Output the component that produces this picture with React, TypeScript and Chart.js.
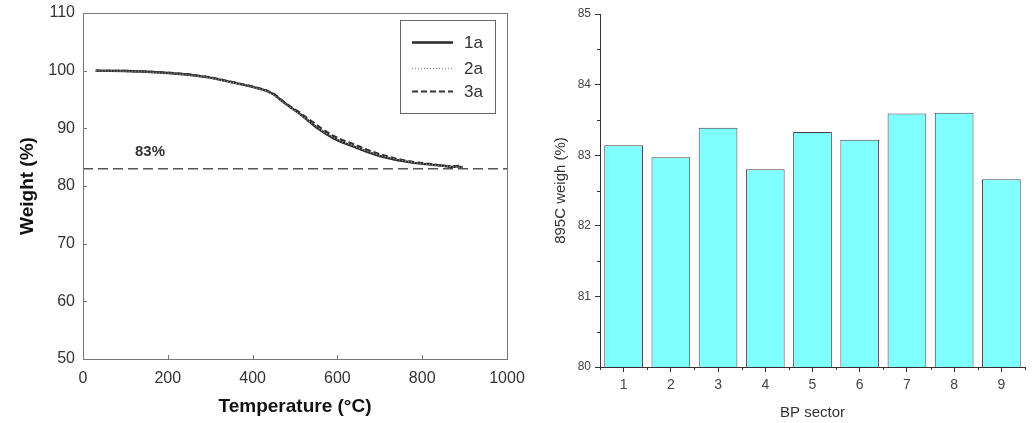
import React, { useEffect, useRef } from "react";
import { Chart, registerables } from "chart.js";

Chart.register(...registerables);

// ---------- Left chart data (TGA curves) ----------
const temperatures = [30, 100, 150, 200, 250, 300, 350, 400, 430, 450, 470, 490, 510, 530, 550, 570, 590, 610, 640, 670, 700, 740, 780, 820, 850, 870, 885, 895];
const weight1a = [100.0, 99.95, 99.8, 99.6, 99.3, 98.8, 98.0, 97.2, 96.6, 95.9, 94.7, 93.6, 92.6, 91.4, 90.2, 89.2, 88.3, 87.6, 86.8, 85.9, 85.2, 84.5, 84.0, 83.7, 83.5, 83.3, 83.4, 83.2];
const weight2a = [100.0, 99.9, 99.75, 99.55, 99.25, 98.75, 97.95, 97.15, 96.55, 95.8, 94.6, 93.5, 92.5, 91.4, 90.3, 89.3, 88.4, 87.7, 86.9, 86.0, 85.3, 84.6, 84.05, 83.7, 83.45, 83.35, 83.3, 83.25];
const weight3a = [100.0, 99.95, 99.85, 99.65, 99.35, 98.85, 98.05, 97.25, 96.65, 96.0, 94.8, 93.7, 92.8, 91.7, 90.6, 89.6, 88.7, 88.0, 87.2, 86.3, 85.5, 84.7, 84.15, 83.8, 83.5, 83.4, 83.5, 83.3];
const seriesLabels = ["1a", "2a", "3a"];
const referenceLevel = 83;
const referenceLabel = "83%";
const referenceLabelAt = { x: 158, y: 85.9 };
const tempAxisTitle = "Temperature (°C)";
const weightAxisTitle = "Weight (%)";

// ---------- Right chart data (bars) ----------
const sectors = ["1", "2", "3", "4", "5", "6", "7", "8", "9"];
const sectorWeights = [83.14, 82.97, 83.39, 82.8, 83.33, 83.22, 83.59, 83.6, 82.66];
const sectorAxisTitle = "BP sector";
const sectorValueTitle = "895C weigh (%)";

const FONT = "'Liberation Sans', Arial, sans-serif";

const zeroPad = (s: any) => {
  s.paddingTop = 0;
  s.paddingBottom = 0;
  s.paddingLeft = 0;
  s.paddingRight = 0;
};

const leftFramePlugin = {
  id: "leftFrame",
  afterDraw(chart: any) {
    const { ctx, chartArea: a, scales } = chart;
    ctx.save();
    ctx.strokeStyle = "#777";
    ctx.lineWidth = 1;
    ctx.strokeRect(a.left + 0.5, a.top + 0.5, a.right - a.left, a.bottom - a.top);
    ctx.beginPath();
    scales.x.ticks.forEach((t: any) => {
      const px = Math.round(scales.x.getPixelForValue(t.value)) + 0.5;
      ctx.moveTo(px, a.bottom);
      ctx.lineTo(px, a.bottom - 4);
    });
    scales.y.ticks.forEach((t: any) => {
      const py = Math.round(scales.y.getPixelForValue(t.value)) + 0.5;
      ctx.moveTo(a.left, py);
      ctx.lineTo(a.left + 4, py);
    });
    ctx.stroke();
    // reference label
    ctx.fillStyle = "#333";
    ctx.font = `bold 15px ${FONT}`;
    ctx.textAlign = "center";
    ctx.textBaseline = "middle";
    ctx.fillText(referenceLabel, scales.x.getPixelForValue(referenceLabelAt.x), scales.y.getPixelForValue(referenceLabelAt.y));
    // legend box
    const x0 = 400, y0 = 20, w = 95, h = 93;
    ctx.strokeStyle = "#666";
    ctx.strokeRect(x0 + 0.5, y0 + 0.5, w, h);
    const rows = [42, 68, 91];
    seriesLabels.forEach((lab, i) => {
      const d = chart.data.datasets.find((ds: any) => ds.label === lab);
      if (!d) return;
      const y = rows[i];
      ctx.save();
      ctx.strokeStyle = d.borderColor;
      ctx.lineWidth = d.borderWidth;
      ctx.setLineDash(d.borderDash || []);
      ctx.beginPath();
      ctx.moveTo(412, y + 0.5);
      ctx.lineTo(453, y + 0.5);
      ctx.stroke();
      ctx.restore();
      ctx.fillStyle = "#333";
      ctx.font = `17px ${FONT}`;
      ctx.textAlign = "left";
      ctx.fillText(d.label, 464, y + 1);
    });
    ctx.restore();
  },
};

const rightMinorPlugin = {
  id: "rightMinor",
  afterDraw(chart: any) {
    const { ctx, chartArea: a, scales } = chart;
    ctx.save();
    ctx.strokeStyle = "#333";
    ctx.lineWidth = 1;
    ctx.beginPath();
    const n = scales.x.ticks.length;
    for (let i = 0; i <= n; i++) {
      const px = Math.round(scales.x.getPixelForValue(i - 0.5)) + 0.5;
      ctx.moveTo(px, a.bottom);
      ctx.lineTo(px, a.bottom + 3);
    }
    const { min, max } = scales.y;
    for (let v = min + 0.5; v < max; v += 1) {
      const py = Math.round(scales.y.getPixelForValue(v)) + 0.5;
      ctx.moveTo(a.left, py);
      ctx.lineTo(a.left - 3, py);
    }
    ctx.stroke();
    ctx.restore();
  },
};

function LeftChart() {
  const ref = useRef<HTMLCanvasElement>(null);
  useEffect(() => {
    const toPts = (arr: number[]) => temperatures.map((t, i) => ({ x: t, y: arr[i] }));
    const chart = new Chart(ref.current as HTMLCanvasElement, {
      type: "line",
      data: {
        datasets: [
          { label: "ref", data: [{ x: 0, y: referenceLevel }, { x: 1000, y: referenceLevel }], borderColor: "#555", borderWidth: 1.6, borderDash: [10, 5], pointRadius: 0 },
          { label: seriesLabels[1], data: toPts(weight2a), borderColor: "#999", borderWidth: 1.5, borderDash: [1, 2], pointRadius: 0 },
          { label: seriesLabels[2], data: toPts(weight3a), borderColor: "#333", borderWidth: 2.2, borderDash: [6, 3], pointRadius: 0 },
          { label: seriesLabels[0], data: toPts(weight1a), borderColor: "#2a2a2a", borderWidth: 2.4, pointRadius: 0 },
        ],
      },
      options: {
        animation: false,
        responsive: false,
        devicePixelRatio: 1,
        layout: { padding: { top: 13, right: 33, left: 0, bottom: 0 } },
        plugins: { legend: { display: false }, tooltip: { enabled: false } },
        scales: {
          x: {
            type: "linear",
            min: 0,
            max: 1000,
            ticks: { stepSize: 200, color: "#333", font: { family: FONT, size: 16 }, padding: 10, maxRotation: 0, callback: (v: any) => String(v) },
            grid: { display: true, drawOnChartArea: false, drawTicks: false },
            border: { display: false },
            title: { display: true, text: tempAxisTitle, color: "#111", font: { family: FONT, size: 19, weight: "bold" }, padding: { top: 0, bottom: 5 } },
            afterFit: (s: any) => { s.height = 64; zeroPad(s); },
          },
          y: {
            min: 50,
            max: 110,
            ticks: { stepSize: 10, color: "#333", font: { family: FONT, size: 16 }, padding: 8 },
            grid: { display: true, drawOnChartArea: false, drawTicks: false },
            border: { display: false },
            title: { display: true, text: weightAxisTitle, color: "#111", font: { family: FONT, size: 19, weight: "bold" }, padding: { top: 16, bottom: 0 } },
            afterFit: (s: any) => { s.width = 83; zeroPad(s); },
          },
        },
      } as any,
      plugins: [leftFramePlugin],
    });
    return () => chart.destroy();
  }, []);
  return <canvas ref={ref} width={540} height={423} style={{ position: "absolute", left: 0, top: 0 }} />;
}

function RightChart() {
  const ref = useRef<HTMLCanvasElement>(null);
  useEffect(() => {
    const chart = new Chart(ref.current as HTMLCanvasElement, {
      type: "bar",
      data: {
        labels: sectors,
        datasets: [
          {
            data: sectorWeights,
            backgroundColor: "#80FFFF",
            borderColor: "#444",
            borderWidth: 1,
            borderSkipped: false,
            barPercentage: 0.82,
            categoryPercentage: 1,
          },
        ],
      },
      options: {
        animation: false,
        responsive: false,
        devicePixelRatio: 1,
        layout: { padding: { top: 14, right: 7, left: 0, bottom: 0 } },
        plugins: { legend: { display: false }, tooltip: { enabled: false } },
        scales: {
          x: {
            ticks: { color: "#444", font: { family: FONT, size: 14 }, padding: 5, maxRotation: 0 },
            grid: { display: true, offset: false, drawOnChartArea: false, drawTicks: true, tickLength: 5, color: "#333" },
            border: { display: true, color: "#333", width: 1 },
            title: { display: true, text: sectorAxisTitle, color: "#333", font: { family: FONT, size: 15 }, padding: { top: 0, bottom: 1 } },
            afterFit: (s: any) => { s.height = 56; zeroPad(s); },
          },
          y: {
            min: 80,
            max: 85,
            ticks: { stepSize: 1, color: "#444", font: { family: FONT, size: 12 }, padding: 4 },
            grid: { display: true, drawOnChartArea: false, drawTicks: true, tickLength: 5, color: "#333" },
            border: { display: true, color: "#333", width: 1 },
            title: { display: true, text: sectorValueTitle, color: "#333", font: { family: FONT, size: 15 }, padding: { top: 32, bottom: 0 } },
            afterFit: (s: any) => { s.width = 80; zeroPad(s); },
          },
        },
      } as any,
      plugins: [rightMinorPlugin],
    });
    return () => chart.destroy();
  }, []);
  return <canvas ref={ref} width={512} height={423} style={{ position: "absolute", left: 520, top: 0 }} />;
}

export default function App() {
  return (
    <div style={{ position: "absolute", left: 0, top: 0, width: 1032, height: 423, background: "#fff", overflow: "hidden" }}>
      <LeftChart />
      <RightChart />
    </div>
  );
}
